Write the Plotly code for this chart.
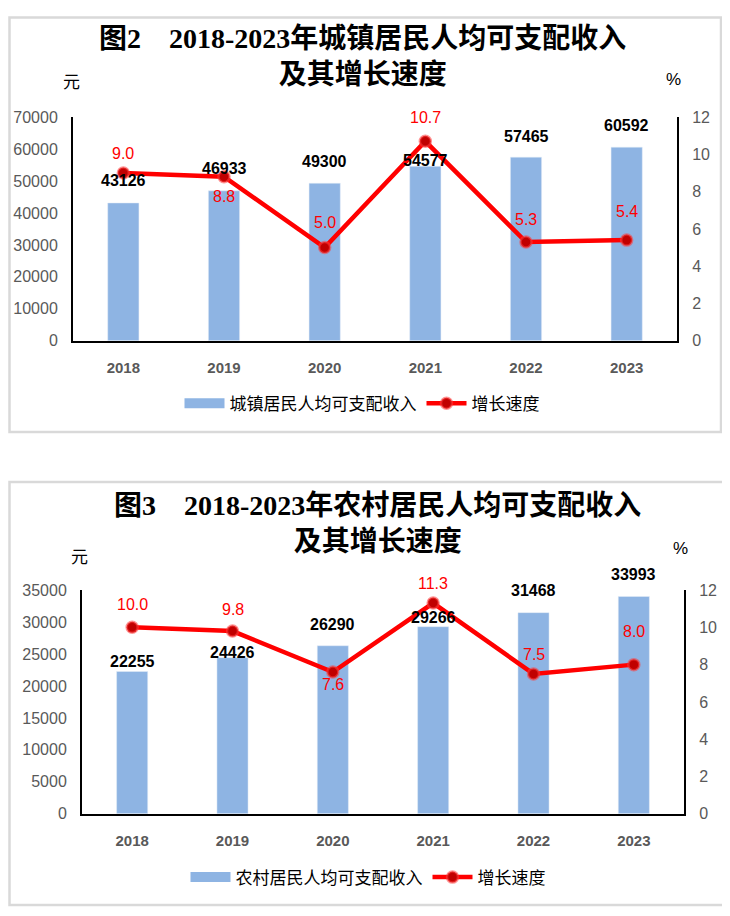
import plotly.graph_objects as go

# 数据
years = ['2018', '2019', '2020', '2021', '2022', '2023']
urban_income = [43126, 46933, 49300, 54577, 57465, 60592]
urban_growth = [9.0, 8.8, 5.0, 10.7, 5.3, 5.4]
rural_income = [22255, 24426, 26290, 29266, 31468, 33993]
rural_growth = [10.0, 9.8, 7.6, 11.3, 7.5, 8.0]

# 标签偏移（像素）
urban_bar_shift = [22, 22, 22, 6, 21, 22]
urban_growth_shift = [20, -20, 25, 24, 22, 29]
rural_bar_shift = [10, 5, 21, 9, 22, 22]
rural_growth_shift = [23, 22, -12, 20, 19, 33]

# 页面 body 默认有 8px 边距，图的尺寸和坐标按此扣除
PAGE_MARGIN = 8
W, H = 730 - PAGE_MARGIN, 916 - PAGE_MARGIN
BAR_COLOR = '#8EB4E3'
LINE_COLOR = '#FF0000'
SANS = 'Liberation Sans, Noto Sans CJK SC'
SERIF = 'Liberation Serif, Noto Sans CJK SC'
GRAY = '#595959'


def px(x):
    return max(x - PAGE_MARGIN, 1.5) / W


def py(y):
    return 1 - max(y - PAGE_MARGIN, 1.5) / H


fig = go.Figure()

panels = [
    dict(income=urban_income, growth=urban_growth, bshift=urban_bar_shift,
         gshift=urban_growth_shift, name='城镇居民人均可支配收入',
         xa='x', ya='y', ya2='y2', legend='legend'),
    dict(income=rural_income, growth=rural_growth, bshift=rural_bar_shift,
         gshift=rural_growth_shift, name='农村居民人均可支配收入',
         xa='x2', ya='y3', ya2='y4', legend='legend2'),
]

marker_style = dict(size=11, color='#C00000',
                    line=dict(color='rgba(255,60,60,0.55)', width=2.5))

annotations = []
for p in panels:
    fig.add_trace(go.Bar(
        x=years, y=p['income'], name=p['name'], marker_color=BAR_COLOR,
        width=0.31, xaxis=p['xa'], yaxis=p['ya'], showlegend=False,
    ))
    # 图例用的宽色块
    fig.add_trace(go.Scatter(
        x=[None], y=[None], name=p['name'], mode='lines',
        line=dict(color=BAR_COLOR, width=12),
        xaxis=p['xa'], yaxis=p['ya'], legend=p['legend'],
    ))
    fig.add_trace(go.Scatter(
        x=years, y=p['growth'], name='增长速度', mode='lines+markers',
        line=dict(color=LINE_COLOR, width=4.5), marker=marker_style,
        xaxis=p['xa'], yaxis=p['ya2'], legend=p['legend'],
    ))
    for i, (v, s) in enumerate(zip(p['income'], p['bshift'])):
        annotations.append(dict(
            x=i, y=v, xref=p['xa'], yref=p['ya'], text=str(v), showarrow=False,
            yshift=s, yanchor='middle',
            font=dict(family=SANS, size=16, color='black', weight='bold'),
        ))
    for i, (v, s) in enumerate(zip(p['growth'], p['gshift'])):
        annotations.append(dict(
            x=i, y=v, xref=p['xa'], yref=p['ya2'], text=f'{v:.1f}', showarrow=False,
            yshift=s, yanchor='middle',
            font=dict(family=SANS, size=16, color=LINE_COLOR),
        ))

# 标题与单位
titles = [
    ('图2　2018-2023年城镇居民人均可支配收入<br>及其增长速度', 362, 49.5),
    ('图3　2018-2023年农村居民人均可支配收入<br>及其增长速度', 377, 525.5),
]
for text, x, y in titles:
    annotations.append(dict(
        x=px(x), y=py(y), xref='paper', yref='paper', text=text, showarrow=False,
        xanchor='center', yanchor='middle', align='center',
        font=dict(family=SERIF, size=28, color='black', weight='bold'),
    ))
units = [('元', 71, 76), ('%', 673, 73), ('元', 79, 560), ('%', 680, 551)]
for text, x, y in units:
    annotations.append(dict(
        x=px(x), y=py(y), xref='paper', yref='paper', text=text, showarrow=False,
        xanchor='center', yanchor='middle',
        font=dict(family=SANS, size=17, color='black'),
    ))

axis_common = dict(showline=True, linecolor='black', linewidth=2, showgrid=False,
                   zeroline=False, ticks='', ticklabelstandoff=10, tickformat='d',
                   tickfont=dict(family=SANS, size=16, color=GRAY))
xaxis_common = dict(showline=True, linecolor='black', linewidth=2, showgrid=False,
                    zeroline=False, ticks='', type='category', range=[-0.5, 5.5],
                    ticklabelstandoff=12,
                    tickfont=dict(family=SANS, size=15, color=GRAY, weight='bold'))

legend_common = dict(orientation='h', xanchor='center', yanchor='middle',
                     font=dict(family=SANS, size=17, color='black'),
                     bgcolor='rgba(0,0,0,0)', itemwidth=40, traceorder='normal')

fig.update_layout(
    width=W, height=H,
    margin=dict(l=0, r=0, t=0, b=0),
    paper_bgcolor='white', plot_bgcolor='white',
    showlegend=True,
    xaxis=dict(domain=[px(73), px(677)], anchor='y', **xaxis_common),
    yaxis=dict(domain=[py(339), py(111)], anchor='x', range=[0, 70000], dtick=10000,
               **axis_common),
    yaxis2=dict(overlaying='y', side='right', anchor='x', range=[0, 12], dtick=2,
                **axis_common),
    xaxis2=dict(domain=[px(82), px(684)], anchor='y3', **xaxis_common),
    yaxis3=dict(domain=[py(821), py(593)], anchor='x2', range=[0, 35000], dtick=5000,
                **axis_common),
    yaxis4=dict(overlaying='y3', side='right', anchor='x2', range=[0, 12], dtick=2,
                **axis_common),
    legend=dict(x=px(362), y=py(403), **legend_common),
    legend2=dict(x=px(368), y=py(886), **legend_common),
    annotations=annotations,
    shapes=[
        dict(type='rect', xref='paper', yref='paper', x0=px(2), x1=px(721),
             y0=py(432), y1=py(2), line=dict(color='#D9D9D9', width=2.5)),
        dict(type='rect', xref='paper', yref='paper', x0=px(9), x1=px(728),
             y0=py(914), y1=py(483), line=dict(color='#D9D9D9', width=2.5)),
    ],
)

fig.write_html('out.html')
